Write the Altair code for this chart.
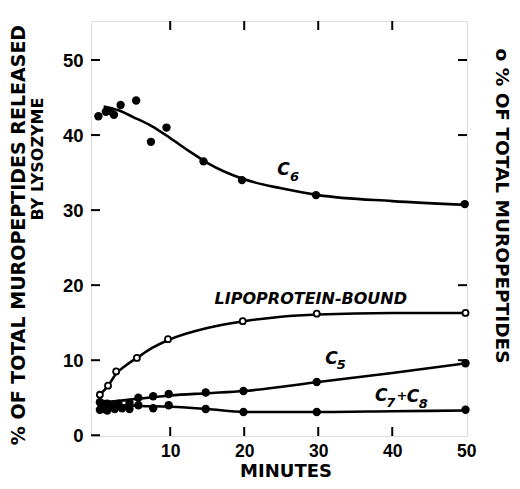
import altair as alt
import pandas as pd

# ---------------- data ----------------
c6_x = [0.3, 1.3, 1.9, 2.4, 3.3, 5.4, 7.4, 9.5, 14.5, 19.7, 29.7, 49.8]
c6_y = [42.5, 43.1, 43.2, 42.7, 44.0, 44.6, 39.1, 41.0, 36.5, 34.0, 32.0, 30.8]
c6_curve_x = [1.0, 3.0, 5.0, 7.5, 10.0, 12.5, 15.0, 20.0, 25.0, 30.0, 40.0, 50.0]
c6_curve_y = [43.8, 43.3, 42.4, 41.2, 39.6, 37.9, 36.3, 34.1, 32.9, 32.0, 31.2, 30.7]

lipo_x = [0.5, 1.6, 2.7, 5.5, 9.7, 19.8, 29.8, 49.9]
lipo_y = [5.4, 6.6, 8.5, 10.3, 12.8, 15.2, 16.2, 16.3]
lipo_curve_x = [0.5, 1.6, 2.7, 4.0, 5.5, 7.5, 10.0, 15.0, 20.0, 25.0, 30.0, 40.0, 50.0]
lipo_curve_y = [5.4, 6.6, 8.2, 9.3, 10.3, 11.6, 12.8, 14.3, 15.2, 15.8, 16.1, 16.3, 16.3]

c5_x = [0.5, 1.0, 1.5, 2.0, 3.0, 4.5, 5.7, 7.7, 9.8, 14.8, 19.9, 29.8, 49.9]
c5_y = [4.4, 4.1, 4.2, 4.0, 4.2, 4.3, 5.0, 5.2, 5.5, 5.7, 5.9, 7.1, 9.6]
c5_curve_x = [0.5, 2.0, 5.0, 10.0, 15.0, 20.0, 30.0, 40.0, 50.0]
c5_curve_y = [4.6, 4.5, 4.8, 5.3, 5.6, 5.9, 7.1, 8.3, 9.6]

c78_x = [0.5, 1.0, 1.5, 2.5, 3.5, 4.5, 5.7, 7.7, 9.8, 14.8, 19.9, 29.8, 49.9]
c78_y = [3.4, 3.5, 3.3, 3.5, 3.6, 3.5, 4.0, 3.6, 4.0, 3.5, 3.1, 3.1, 3.4]
c78_curve_x = [0.5, 3.0, 6.0, 10.0, 15.0, 20.0, 30.0, 40.0, 50.0]
c78_curve_y = [4.0, 4.0, 3.9, 3.8, 3.5, 3.1, 3.1, 3.2, 3.3]

y_ticks = [0, 10, 20, 30, 40, 50]
x_ticks = [10, 20, 30, 40, 50]
right_ticks = [10, 20, 40, 50]
top_ticks = [10, 20, 30, 40]

# curve labels, split into letters and subscripts
label_text = ["C", "6", "LIPOPROTEIN-BOUND", "C", "5", "C", "7", "+", "C", "8"]
label_x = [25.3, 26.8, 29.0, 31.8, 33.1, 38.5, 39.8, 41.3, 42.8, 44.2]
label_y = [35.4, 34.4, 18.1, 10.1, 9.3, 5.2, 4.3, 5.2, 5.1, 4.1]
label_size = [17, 13, 16, 17, 13, 17, 13, 13, 17, 13]

# ---------------- tables ----------------
def pts(name, xs, ys):
    return pd.DataFrame({"series": name, "x": xs, "y": ys})

filled = pd.concat([pts("C6", c6_x, c6_y), pts("C5", c5_x, c5_y),
                    pts("C7+C8", c78_x, c78_y)])
opened = pts("Lipo", lipo_x, lipo_y)
curves = pd.concat([
    pts("C6", c6_curve_x, c6_curve_y),
    pts("Lipo", lipo_curve_x, lipo_curve_y),
    pts("C5", c5_curve_x, c5_curve_y),
    pts("C7+C8", c78_curve_x, c78_curve_y),
])
labels = pd.DataFrame({"t": label_text, "x": label_x, "y": label_y, "s": label_size})

W, H = 376, 415
TOP = 13
FONT = "Liberation Sans"
TFONT = "DejaVu Sans"

xs = alt.Scale(domain=[-0.7, 50.1], nice=False, zero=False)
ys = alt.Scale(domain=[-0.1, 55.2], nice=False, zero=False)

X = alt.X("x:Q", scale=xs, axis=alt.Axis(values=x_ticks, title=None, ticks=False, domain=False,
                                          grid=False, labelPadding=6, labelFontSize=17.5,
                                          labelFont=FONT, labelFontWeight="bold",
                                          labelColor="black", labelFlush=False))
Y = alt.Y("y:Q", scale=ys, axis=alt.Axis(values=y_ticks, title=None, ticks=False, domain=False,
                                          grid=False, labelPadding=8, labelFontSize=18.5,
                                          labelFont=FONT, labelFontWeight="bold",
                                          labelColor="black", labelFlush=False))

lines = alt.Chart(curves).mark_line(color="black", strokeWidth=2.6, interpolate="monotone").encode(
    x=X, y=Y, detail="series:N")

dots = alt.Chart(filled).mark_point(filled=True, color="black", size=70, opacity=1).encode(
    x=alt.X("x:Q", scale=xs), y=alt.Y("y:Q", scale=ys))

circles = alt.Chart(opened).mark_point(filled=True, fill="white", stroke="black",
                                        strokeWidth=1.8, size=36, opacity=1).encode(
    x=alt.X("x:Q", scale=xs), y=alt.Y("y:Q", scale=ys))

txt = alt.Chart(labels).mark_text(font=TFONT, fontStyle="italic", fontWeight="bold",
                                  color="black", align="center", baseline="middle").encode(
    x=alt.X("x:Q", scale=xs), y=alt.Y("y:Q", scale=ys), text="t:N",
    size=alt.Size("s:Q", scale=None, legend=None))

# inward ticks on the frame
ytk = pd.DataFrame({"v": y_ticks})
rtk = pd.DataFrame({"v": right_ticks})
xtk = pd.DataFrame({"v": x_ticks[:-1]})
ttk = pd.DataFrame({"v": top_ticks})

left_t = alt.Chart(ytk).mark_rule(color="black", strokeWidth=2).encode(
    y=alt.Y("v:Q", scale=ys), x=alt.value(0), x2=alt.value(9))
right_t = alt.Chart(rtk).mark_rule(color="black", strokeWidth=2).encode(
    y=alt.Y("v:Q", scale=ys), x=alt.value(W - 9), x2=alt.value(W))
bot_t = alt.Chart(xtk).mark_rule(color="black", strokeWidth=2).encode(
    x=alt.X("v:Q", scale=xs), y=alt.value(H - 9), y2=alt.value(H))
top_t = alt.Chart(ttk).mark_rule(color="black", strokeWidth=2).encode(
    x=alt.X("v:Q", scale=xs), y=alt.value(0), y2=alt.value(9))

# titles (page positions converted to the plot origin at y = 8 + TOP)
one = pd.DataFrame({"a": [0]})
def title(text, x, y, angle, size):
    return alt.Chart(one).mark_text(text=text, font=TFONT, fontWeight="bold", fontSize=size,
                                    angle=angle, color="black", align="center",
                                    baseline="middle").encode(x=alt.value(x), y=alt.value(y))

t1 = title("% OF TOTAL MUROPEPTIDES RELEASED", -72, 235 - 8 - TOP, 270, 19)
t2 = title("BY LYSOZYME", -53, 159 - 8 - TOP, 270, 16)
t3 = title("o % OF TOTAL MUROPEPTIDES", 411, 206 - 8 - TOP, 90, 18.5)
t4 = title("MINUTES", 195, 472 - 8 - TOP, 0, 18)

chart = alt.layer(lines, dots, circles, txt, left_t, right_t, bot_t, top_t, t1, t2, t3, t4).properties(
    width=W, height=H,
    autosize=alt.AutoSizeParams(type="none"),
    padding={"left": 83, "top": TOP, "right": 45, "bottom": 45},
).configure_view(stroke="black", strokeWidth=2.2).configure(background="white")

chart.save("out.html", embed_options={"renderer": "svg", "actions": False})
